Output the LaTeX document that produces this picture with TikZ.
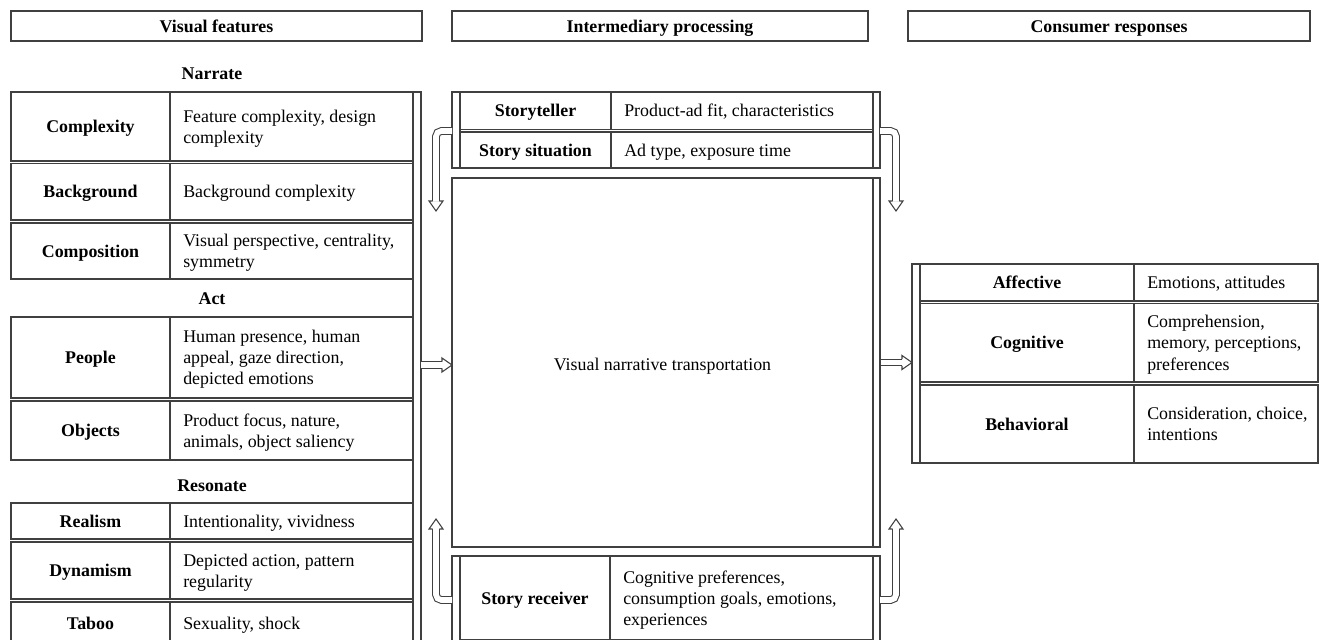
\documentclass[tikz,border=0pt]{standalone}
\usepackage{fontspec}
\setmainfont{Liberation Serif}
\newcommand{\fsz}{\fontsize{13.4}{15.8}\selectfont}
\newcommand{\tstrut}{\rule[-3.2pt]{0pt}{15.7pt}}
% one row of a two-column table: name, x left, x middle, x right, y top, y bottom, label, text
\newcommand{\tabrow}[8]{%
  \draw[frame] (#2,#5) rectangle (#4,#6);
  \draw[frame] (#3,#5) -- (#3,#6);
  \node[lbl] (#1) at ({(#2+#3)/2},{(#5+#6)/2}) {#7};
  \node[desc] (#1-txt) at ({#3+13},{(#5+#6)/2}) {\tstrut #8\tstrut};
}
\tikzset{
  frame/.style={draw=black!75, line width=0.8pt},
  lbl/.style={font=\fsz\bfseries, inner sep=0pt, text height=12.4pt, text depth=3.2pt},
  desc/.style={font=\fsz, align=left, inner sep=0pt, anchor=west},
  hollow/.style={draw=black!75, line width=0.8pt, double, double distance=4.2pt, rounded corners=4pt},
  opentip/.pic={\draw[frame] (0,3.4) -- (0,7) -- (10,0) -- (0,-7) -- (0,-3.4);}
}
\begin{document}
\begin{tikzpicture}[x=0.75pt, y=-0.75pt]
  \clip (0,0) rectangle (1320,639);
  % headers
  \draw[frame] (11,11) rectangle (422,41);
  \node[lbl] (hvis) at (216.5,26) {Visual features};
  \draw[frame] (452,11) rectangle (868,41);
  \node[lbl] (hint) at (660,26) {Intermediary processing};
  \draw[frame] (908,11) rectangle (1310,41);
  \node[lbl] (hcon) at (1109,26) {Consumer responses};

  % visual features
  \node[lbl] (narrate) at (212,73) {Narrate};
  \tabrow{cplx}{11}{170}{413}{92}{161}{Complexity}{Feature complexity, design\\complexity}
  \tabrow{bgd}{11}{170}{413}{163.5}{220}{Background}{Background complexity}
  \tabrow{comp}{11}{170}{413}{223}{279}{Composition}{Visual perspective, centrality,\\symmetry}
  \node[lbl] (act) at (212,298) {Act};
  \tabrow{ppl}{11}{170}{413}{317}{398}{People}{Human presence, human\\appeal, gaze direction,\\depicted emotions}
  \tabrow{obj}{11}{170}{413}{401}{460}{Objects}{Product focus, nature,\\animals, object saliency}
  \node[lbl] (reso) at (212,485) {Resonate};
  \tabrow{real}{11}{170}{413}{503}{539}{Realism}{Intentionality, vividness}
  \tabrow{dyn}{11}{170}{413}{542}{599}{Dynamism}{Depicted action, pattern\\regularity}
  \tabrow{tab}{11}{170}{413}{602}{645}{Taboo}{Sexuality, shock}
  \draw[frame] (413,92) rectangle (421,650);

  % intermediary processing
  \draw[frame] (452,92) rectangle (460,168);
  \draw[frame] (873,92) rectangle (880,168);
  \tabrow{teller}{460}{611}{873}{92}{129.5}{Storyteller}{Product-ad fit, characteristics}
  \tabrow{situ}{460}{611}{873}{132}{168}{Story situation}{Ad type, exposure time}
  \node[frame, minimum width=321pt, minimum height=276.75pt, inner sep=0pt] (trans) at (666,362.5) {};
  \draw[frame] (873,178) -- (873,547);
  \node[desc, anchor=center] (trans-txt) at (662.5,364) {\tstrut Visual narrative transportation\tstrut};
  \draw[frame] (452,556) rectangle (460,645);
  \draw[frame] (873,556) rectangle (880,645);
  \tabrow{recv}{460}{610}{873}{556}{640}{Story receiver}{Cognitive preferences,\\consumption goals, emotions,\\experiences}

  % consumer responses
  \draw[frame] (912,264) rectangle (920,463);
  \tabrow{aff}{920}{1134}{1318}{264}{301}{Affective}{Emotions, attitudes}
  \tabrow{cog}{920}{1134}{1318}{303.5}{382}{Cognitive}{Comprehension,\\memory, perceptions,\\preferences}
  \tabrow{beh}{920}{1134}{1318}{385}{463}{Behavioral}{Consideration, choice,\\intentions}

  % arrows
  \coordinate (lbar) at (421,365);
  \coordinate (lend) at (442,365);
  \coordinate (rend) at (902,362.5);
  \coordinate (tl-a) at (452,131);
  \coordinate (tl-b) at (436,201);
  \coordinate (tr-a) at (880,131);
  \coordinate (tr-b) at (896,201);
  \coordinate (bl-a) at (452,600);
  \coordinate (bl-b) at (436,529);
  \coordinate (br-a) at (880,600);
  \coordinate (br-b) at (896,529);
  \draw[hollow] (lbar) -- (lend);
  \pic at (lend) {opentip};
  \draw[hollow] (trans.east) -- (rend);
  \pic at (rend) {opentip};
  \draw[hollow] (tl-a) -| (tl-b);
  \pic[rotate=-90] at (tl-b) {opentip};
  \draw[hollow] (tr-a) -| (tr-b);
  \pic[rotate=-90] at (tr-b) {opentip};
  \draw[hollow] (bl-a) -| (bl-b);
  \pic[rotate=90] at (bl-b) {opentip};
  \draw[hollow] (br-a) -| (br-b);
  \pic[rotate=90] at (br-b) {opentip};
\end{tikzpicture}
\end{document}
